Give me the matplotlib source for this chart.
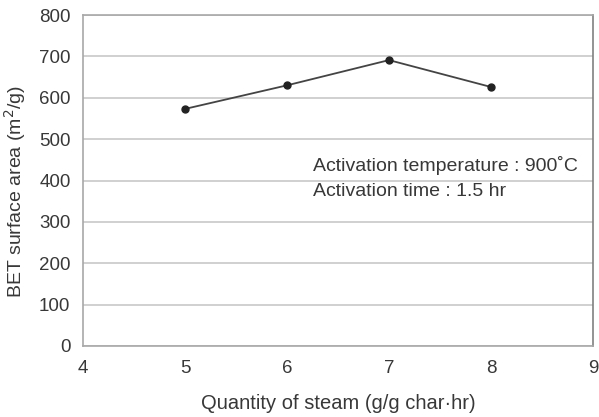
import matplotlib
matplotlib.use("Agg")
import matplotlib.pyplot as plt

steam = [5, 6, 7, 8]
bet_area = [573, 630, 691, 626]
xticks = [4, 5, 6, 7, 8, 9]
yticks = [0, 100, 200, 300, 400, 500, 600, 700, 800]

plt.rcParams['font.family'] = ['Liberation Sans', 'DejaVu Sans']

fig = plt.figure(figsize=(5.99, 4.17), dpi=100)
ax = fig.add_axes([83/599, 1 - 346/417, (593-83)/599, (346-15)/417])

ax.set_xlim(4, 9)
ax.set_ylim(0, 800)
ax.set_xticks(xticks)
ax.set_yticks(yticks)
ax.yaxis.grid(True, color='#c8c8c8', linewidth=1.2)
ax.set_axisbelow(True)
for s in ['left', 'bottom', 'top']:
    ax.spines[s].set_color('#a8a8a8')
    ax.spines[s].set_linewidth(1.2)
ax.spines['right'].set_color('#808080')
ax.spines['right'].set_linewidth(1.2)
ax.tick_params(length=0, labelsize=13.5, colors='#383838', pad=9)
ax.tick_params(axis='x', pad=10)

ax.plot(steam, bet_area, color='#444444', linewidth=1.3, marker='o',
        markersize=5, markerfacecolor='#222222', markeredgecolor='#222222')

x0, x1 = ax.get_xlim()
def fx(px):
    return x0 + (px - 83) / (593 - 83) * (x1 - x0)
def fy(py):
    return (346 - py) / (346 - 15) * 800

ax.text(fx(313), fy(166), 'Activation temperature : 900˚C',
        fontsize=14, color='#383838', va='center', ha='left')
ax.text(fx(313), fy(192), 'Activation time : 1.5 hr',
        fontsize=14, color='#383838', va='center', ha='left')

ax.set_xlabel('Quantity of steam (g/g char·hr)', fontsize=14.5, color='#383838', labelpad=12)
fig.text(15/599, 1 - 192/417, 'BET surface area (m$^2$/g)', fontsize=14,
         color='#383838', rotation=90, ha='center', va='center')

fig.savefig('out.png', dpi=100)
